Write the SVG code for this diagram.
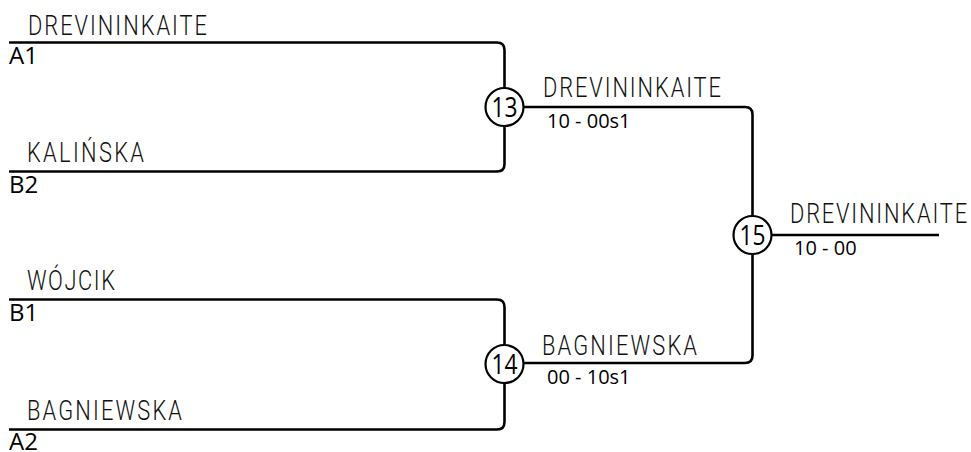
<svg xmlns="http://www.w3.org/2000/svg" width="971" height="452" viewBox="0 0 971 452">
<style>
.ln{fill:none;stroke:#000;stroke-width:2.6;stroke-linejoin:round}
.nm{font-family:Roboto,"Liberation Sans",sans-serif;font-weight:300;font-size:28px;fill:#111}
.sd{font-family:"Open Sans","Liberation Sans",sans-serif;font-size:24px;fill:#000}
.sc{font-family:"Open Sans","Liberation Sans",sans-serif;font-size:20px;fill:#000}
.cc{fill:#fff;stroke:#000;stroke-width:2.2}
.cn{font-family:"Open Sans","Liberation Sans",sans-serif;font-size:27px;fill:#000;text-anchor:middle}
</style>
<rect width="971" height="452" fill="#fff"/>
<g id="connectors">
<path class="ln" d="M9,42.5 H497 Q504.5,42.5 504.5,50 V164 Q504.5,171.5 497,171.5 H9"/>
<path class="ln" d="M9,299.5 H497 Q504.5,299.5 504.5,307 V422 Q504.5,429.5 497,429.5 H9"/>
<path class="ln" d="M504.5,107 H745 Q752.5,107 752.5,114.5 V355.5 Q752.5,363 745,363 H504.5"/>
<path class="ln" d="M752.5,235 H939"/>
</g>
<g id="entry-a1">
<text class="nm" transform="translate(28,35) scale(0.78,1)" textLength="229.5" lengthAdjust="spacing">DREVININKAITE</text>
<text class="sd" x="9" y="64">A1</text>
</g>
<g id="entry-b2">
<text class="nm" transform="translate(27,162) scale(0.78,1)" textLength="150" lengthAdjust="spacing">KALIŃSKA</text>
<text class="sd" x="9" y="193">B2</text>
</g>
<g id="entry-b1">
<text class="nm" transform="translate(27,290) scale(0.78,1)" textLength="112.8" lengthAdjust="spacing">WÓJCIK</text>
<text class="sd" x="9" y="321">B1</text>
</g>
<g id="entry-a2">
<text class="nm" transform="translate(27,420) scale(0.78,1)" textLength="198.7" lengthAdjust="spacing">BAGNIEWSKA</text>
<text class="sd" x="9" y="450">A2</text>
</g>
<g id="match-13">
<circle class="cc" cx="504.5" cy="107" r="19"/>
<text class="cn" x="504.5" y="116.5" textLength="26" lengthAdjust="spacingAndGlyphs">13</text>
<text class="nm" transform="translate(543,97) scale(0.78,1)" textLength="228.2" lengthAdjust="spacing">DREVININKAITE</text>
<text class="sc" x="547" y="128">10 - 00s1</text>
</g>
<g id="match-14">
<circle class="cc" cx="504.5" cy="364" r="19"/>
<text class="cn" x="504.5" y="373.5" textLength="26" lengthAdjust="spacingAndGlyphs">14</text>
<text class="nm" transform="translate(542,355) scale(0.78,1)" textLength="198.7" lengthAdjust="spacing">BAGNIEWSKA</text>
<text class="sc" x="547" y="384">00 - 10s1</text>
</g>
<g id="match-15">
<circle class="cc" cx="752.5" cy="235" r="19"/>
<text class="cn" x="752.5" y="244.5" textLength="26" lengthAdjust="spacingAndGlyphs">15</text>
<text class="nm" transform="translate(790,223) scale(0.78,1)" textLength="227" lengthAdjust="spacing">DREVININKAITE</text>
<text class="sc" x="794" y="255">10 - 00</text>
</g>
</svg>
